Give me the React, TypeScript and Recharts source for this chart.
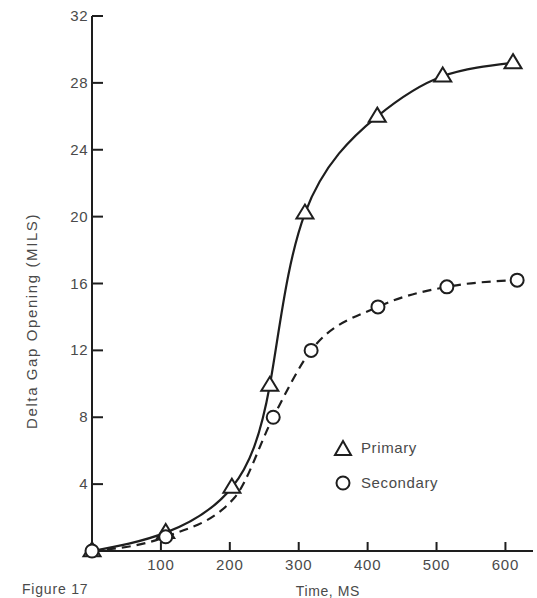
import React from "react";
import { LineChart, Line, XAxis, YAxis, Legend } from "recharts";

const primaryTime = [0, 107, 203, 258, 309, 414, 509, 611];
const primaryGap = [0, 1.1, 3.8, 9.9, 20.2, 26.0, 28.4, 29.2];
const secondaryTime = [0, 107, 207, 263, 318, 415, 515, 617];
const secondaryGap = [0, 0.85, 3.2, 8.0, 12.0, 14.6, 15.8, 16.2];
// secondary readings whose circle is covered by a primary triangle in the original
const secondaryCoveredTimes = [207];
const xTicks = [100, 200, 300, 400, 500, 600];
const yTicks = [4, 8, 12, 16, 20, 24, 28, 32];
const seriesNames = ["Primary", "Secondary"];
const xTitle = "Time, MS";
const yTitle = "Delta Gap Opening (MILS)";
const figureCaption = "Figure 17";

const primaryData = primaryTime.map((t, i) => ({ t, v: primaryGap[i] }));
const secondaryData = secondaryTime.map((t, i) => ({ t, v: secondaryGap[i] }));

const INK = "#1e1e1e";
const TEXT = "#4a4a4a";
const FONT = "'Liberation Sans', Arial, sans-serif";

const Triangle = (props: any) => {
  const { cx, cy, index } = props;
  if (cx == null || cy == null) return <g key={`t${index}`} />;
  const h = 14;
  const w = 17;
  return (
    <path
      key={`t${index}`}
      d={`M${cx},${cy - h * 0.62} L${cx + w / 2},${cy + h * 0.38} L${cx - w / 2},${cy + h * 0.38} Z`}
      fill="#fff"
      stroke={INK}
      strokeWidth={2}
    />
  );
};

const Circle = (props: any) => {
  const { cx, cy, index, payload } = props;
  if (cx == null || cy == null || (payload && secondaryCoveredTimes.includes(payload.t))) return <g key={`c${index}`} />;
  return <circle key={`c${index}`} cx={cx} cy={cy} r={6.5} fill="#fff" stroke={INK} strokeWidth={2} />;
};

const XTick = (props: any) => {
  const { x, y, payload } = props;
  return (
    <g>
      <line x1={x} y1={y} x2={x} y2={y - 9} stroke={INK} strokeWidth={2} />
      <text x={x} y={y + 19} textAnchor="middle" fill={TEXT} fontSize={15} fontFamily={FONT} letterSpacing={0.8}>
        {payload.value}
      </text>
    </g>
  );
};

const YTick = (props: any) => {
  const { x, y, payload } = props;
  return (
    <g>
      <line x1={x} y1={y} x2={x + 11} y2={y} stroke={INK} strokeWidth={2} />
      <text x={x - 4} y={y + 5} textAnchor="end" fill={TEXT} fontSize={15} fontFamily={FONT} letterSpacing={0.5}>
        {payload.value}
      </text>
    </g>
  );
};

const LegendContent = () => (
  <div style={{ fontFamily: FONT, fontSize: 15, color: TEXT, letterSpacing: 0.6 }}>
    <div style={{ display: "flex", alignItems: "center", height: 35 }}>
      <svg width={22} height={20} style={{ marginRight: 7 }}>
        <path d="M11,3 L19,17 L3,17 Z" fill="#fff" stroke={INK} strokeWidth={2} />
      </svg>
      <span>{seriesNames[0]}</span>
    </div>
    <div style={{ display: "flex", alignItems: "center", height: 35 }}>
      <svg width={22} height={20} style={{ marginRight: 7 }}>
        <circle cx={11} cy={10} r={6.5} fill="#fff" stroke={INK} strokeWidth={2} />
      </svg>
      <span>{seriesNames[1]}</span>
    </div>
  </div>
);

export default function App() {
  return (
    <div style={{ position: "absolute", left: 0, top: 0, width: 537, height: 598, overflow: "hidden", background: "#fff" }}>
      <LineChart width={537} height={598} margin={{ top: 16, right: 4, bottom: 0, left: 0 }}>
        <XAxis
          type="number"
          dataKey="t"
          domain={[0, 640]}
          ticks={xTicks}
          tickSize={0}
          tickMargin={0}
          tickLine={false}
          tick={<XTick />}
          height={47}
          axisLine={{ stroke: INK, strokeWidth: 2 }}
          label={(p: any) => {
            const vb = p.viewBox || {};
            return (
              <text x={vb.x + vb.width * 0.535} y={596} textAnchor="middle" fill={TEXT} fontSize={14} fontFamily={FONT} letterSpacing={0.6}>
                {xTitle}
              </text>
            );
          }}
        />
        <YAxis
          type="number"
          dataKey="v"
          domain={[0, 32]}
          ticks={yTicks}
          tickSize={0}
          tickMargin={0}
          tickLine={false}
          tick={<YTick />}
          width={92}
          axisLine={{ stroke: INK, strokeWidth: 2 }}
          label={(p: any) => {
            const vb = p.viewBox || {};
            const cy = vb.y + vb.height * 0.57;
            return (
              <text x={37} y={cy} transform={`rotate(-90, 37, ${cy})`} textAnchor="middle" fill={TEXT} fontSize={15} fontFamily={FONT} letterSpacing={1.6}>
                {yTitle}
              </text>
            );
          }}
        />
        <Legend
          layout="horizontal"
          verticalAlign="middle"
          align="center"
          content={<LegendContent />}
          wrapperStyle={{ position: "absolute", left: 332, top: 430, width: 160, height: 70 }}
        />
        <Line
          data={primaryData}
          dataKey="v"
          name={seriesNames[0]}
          type="natural"
          stroke={INK}
          strokeWidth={2.2}
          dot={Triangle}
          activeDot={false}
          isAnimationActive={false}
        />
        <Line
          data={secondaryData}
          dataKey="v"
          name={seriesNames[1]}
          type="monotone"
          stroke={INK}
          strokeWidth={2.2}
          strokeDasharray="9 6"
          dot={Circle}
          activeDot={false}
          isAnimationActive={false}
        />
      </LineChart>
      <div style={{ position: "absolute", left: 22, top: 581, fontFamily: FONT, fontSize: 14, color: TEXT, letterSpacing: 0.8, whiteSpace: "nowrap" }}>
        {figureCaption}
      </div>
    </div>
  );
}
